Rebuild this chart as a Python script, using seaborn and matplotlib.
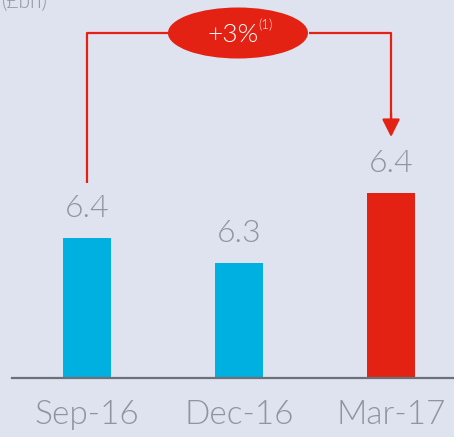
import matplotlib
matplotlib.use("Agg")
import matplotlib.pyplot as plt
import seaborn as sns
from matplotlib.patches import Ellipse

# data (axis is truncated, labels are rounded)
periods = ["Sep-16", "Dec-16", "Mar-17"]
values = [6.35, 6.30, 6.44]
value_labels = ["6.4", "6.3", "6.4"]
bar_colors = ["#00b0e0", "#00b0e0", "#e32213"]
growth_label = "+3%"
growth_note = "(1)"
unit_label = "(£bn)"

sns.set_theme(style="white")
plt.rcParams['font.family'] = ['Lato', 'DejaVu Sans']
plt.rcParams['font.weight'] = 350

bg = "#dfe2ef"
red = "#e32213"
grey = "#8d969f"

fig = plt.figure(figsize=(4.54, 4.37), dpi=100, facecolor=bg)
ax = fig.add_axes([12 / 454, 59 / 437, 442 / 454, 378 / 437])
ax.set_facecolor(bg)

sns.barplot(x=periods, y=values, hue=periods, palette=bar_colors,
            width=0.316, legend=False, saturation=1, linewidth=0, ax=ax)

ax.set_xlim(-0.493, 2.414)
ax.set_ylim(6.07, 6.826)
ax.set_yticks([])
ax.set_ylabel("")
ax.set_xlabel("")
for s in ["top", "right", "left"]:
    ax.spines[s].set_visible(False)
ax.spines["bottom"].set_color("#6b7079")
ax.spines["bottom"].set_linewidth(1.6)
ax.tick_params(axis="x", length=0, pad=16, labelsize=24, labelcolor=grey)
for t in ax.get_xticklabels():
    t.set_fontweight(350)

# value labels above bars
for i, (v, lab) in enumerate(zip(values, value_labels)):
    ax.annotate(lab, (i, v), xytext=(0, 11), textcoords="offset points",
                ha="center", va="bottom", fontsize=23, color=grey,
                fontweight=350)

# growth bracket
top_y = 6.76
ax.plot([0, 0, 0.54], [6.46, top_y, top_y], color=red, lw=1.6,
        clip_on=False, solid_capstyle="butt")
ax.plot([1.46, 2, 2], [top_y, top_y, 6.585], color=red, lw=1.6,
        clip_on=False, solid_capstyle="butt")
ax.annotate("", xy=(2, 6.552), xytext=(2, 6.6),
            arrowprops=dict(arrowstyle="-|>,head_length=0.9,head_width=0.45",
                            color=red, lw=1.6, shrinkA=0, shrinkB=0))
ax.add_patch(Ellipse((0.993, top_y), 0.921, 0.102, facecolor=red,
                     edgecolor="none", clip_on=False, zorder=5))
ax.text(0.96, top_y - 0.003, growth_label, ha="center", va="center",
        fontsize=19, color="white", fontweight=350, zorder=6)
ax.text(1.125, top_y + 0.017, growth_note, ha="left", va="center",
        fontsize=9.5, color="white", fontweight=350, zorder=6)

fig.text(0.005, 1 - 8 / 437, unit_label, ha="left", va="baseline",
         fontsize=15, color=grey, fontweight=350)

fig.savefig("out.png", dpi=100, facecolor=bg)
